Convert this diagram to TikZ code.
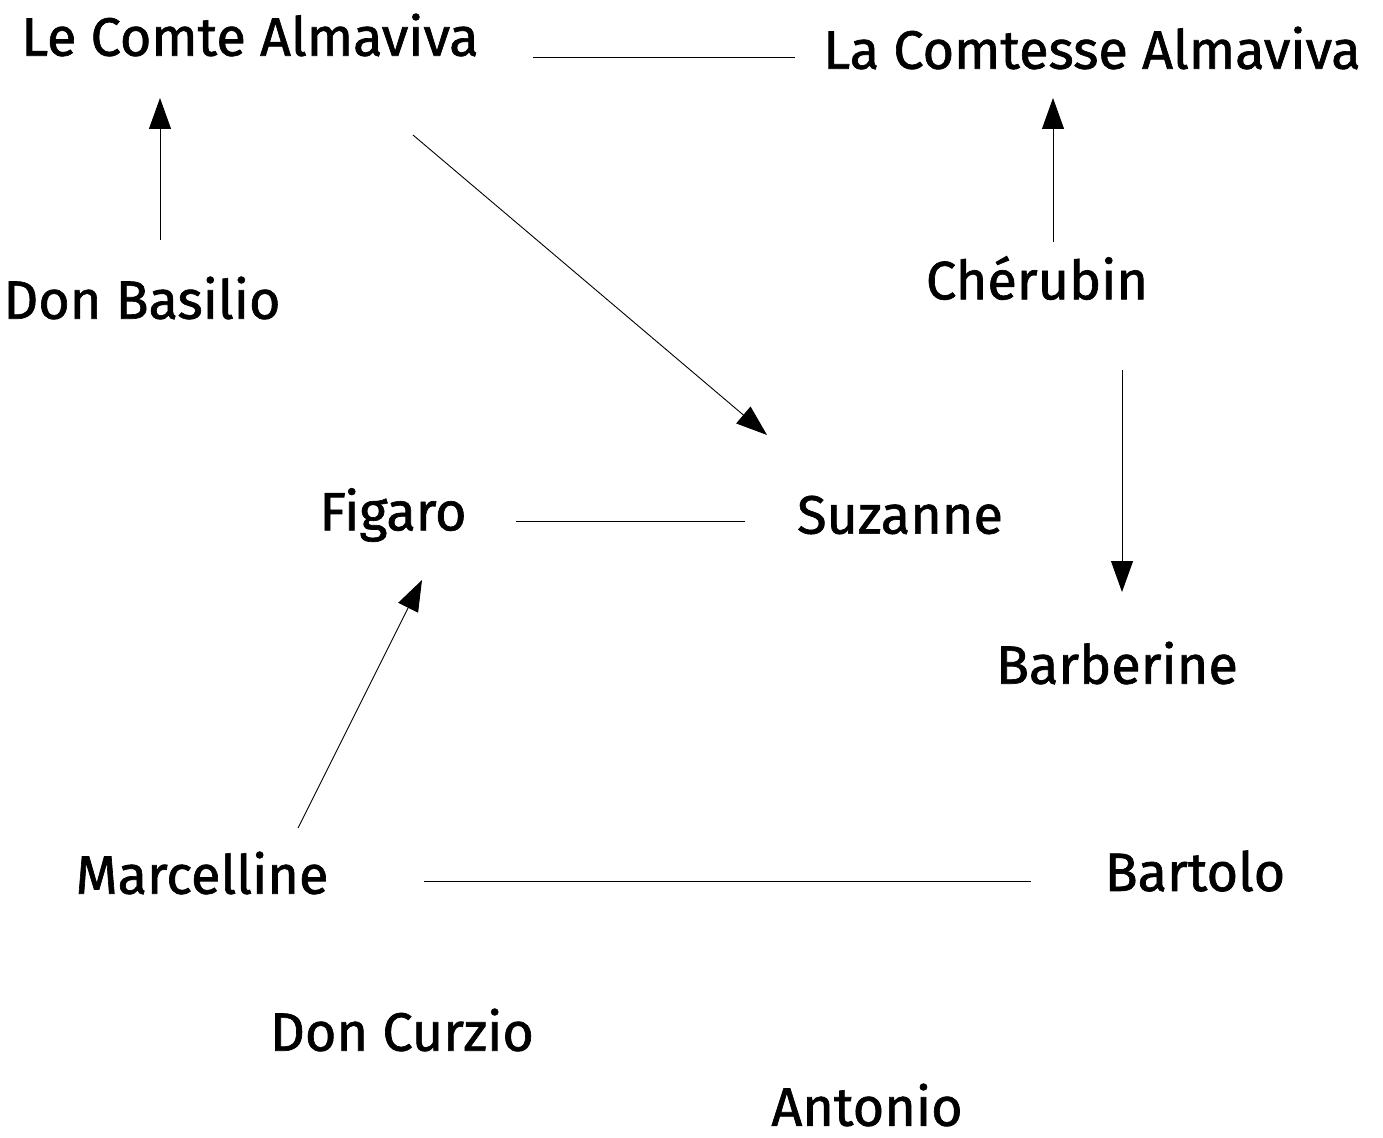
\documentclass[tikz,border=0pt]{standalone}
\usepackage{fontspec}
\setmainfont{Fira Sans}
\newfontfamily\rolefont{Fira Sans}[FakeBold=1.2]
\usetikzlibrary{arrows.meta}

\begin{document}
\begin{tikzpicture}[x=1pt,y=-1pt,>={Triangle[length=31pt,width=22pt]},
    role/.style={inner sep=0pt,font=\rolefont\fontsize{54}{58}\selectfont},
    link/.style={line width=0.9pt}]
    \useasboundingbox (0,0) rectangle (1383,1137);
    \node[role] (comte) at (250,35) {Le Comte Almaviva};
    \node[role] (comtesse) at (1092,48) {La Comtesse Almaviva};
    \node[role] (basilio) at (142,298) {Don Basilio};
    \node[role] (cherubin) at (1037,278) {Chérubin};
    \node[role] (figaro) at (393,515) {Figaro};
    \node[role] (suzanne) at (900,515) {Suzanne};
    \node[role] (barberine) at (1117,663) {Barberine};
    \node[role] (marcelline) at (202,873) {Marcelline};
    \node[role] (bartolo) at (1195,871) {Bartolo};
    \node[role] (curzio) at (402,1030) {Don Curzio};
    \node[role] (antonio) at (867,1105) {Antonio};
    % couples
    \draw[link] ([shift={(283,22)}]comte.center) -- ([shift={(-297,9)}]comtesse.center);
    \draw[link] ([shift={(123,6)}]figaro.center) -- ([shift={(-155,6)}]suzanne.center);
    \draw[link] ([shift={(222,8)}]marcelline.center) -- ([shift={(-164,10)}]bartolo.center);
    % arrows
    \draw[link,->] ([shift={(18,-58)}]basilio.center) -- ([shift={(-90,63)}]comte.center);
    \draw[link,->] ([shift={(16,-36)}]cherubin.center) -- ([shift={(-39,50)}]comtesse.center);
    \draw[link,->] ([shift={(163,100)}]comte.center) -- ([shift={(-133,-80)}]suzanne.center);
    \draw[link,->] ([shift={(85,92)}]cherubin.center) -- ([shift={(5,-71)}]barberine.center);
    \draw[link,->] ([shift={(96,-45)}]marcelline.center) -- ([shift={(29,65)}]figaro.center);
  \end{tikzpicture}
\end{document}
